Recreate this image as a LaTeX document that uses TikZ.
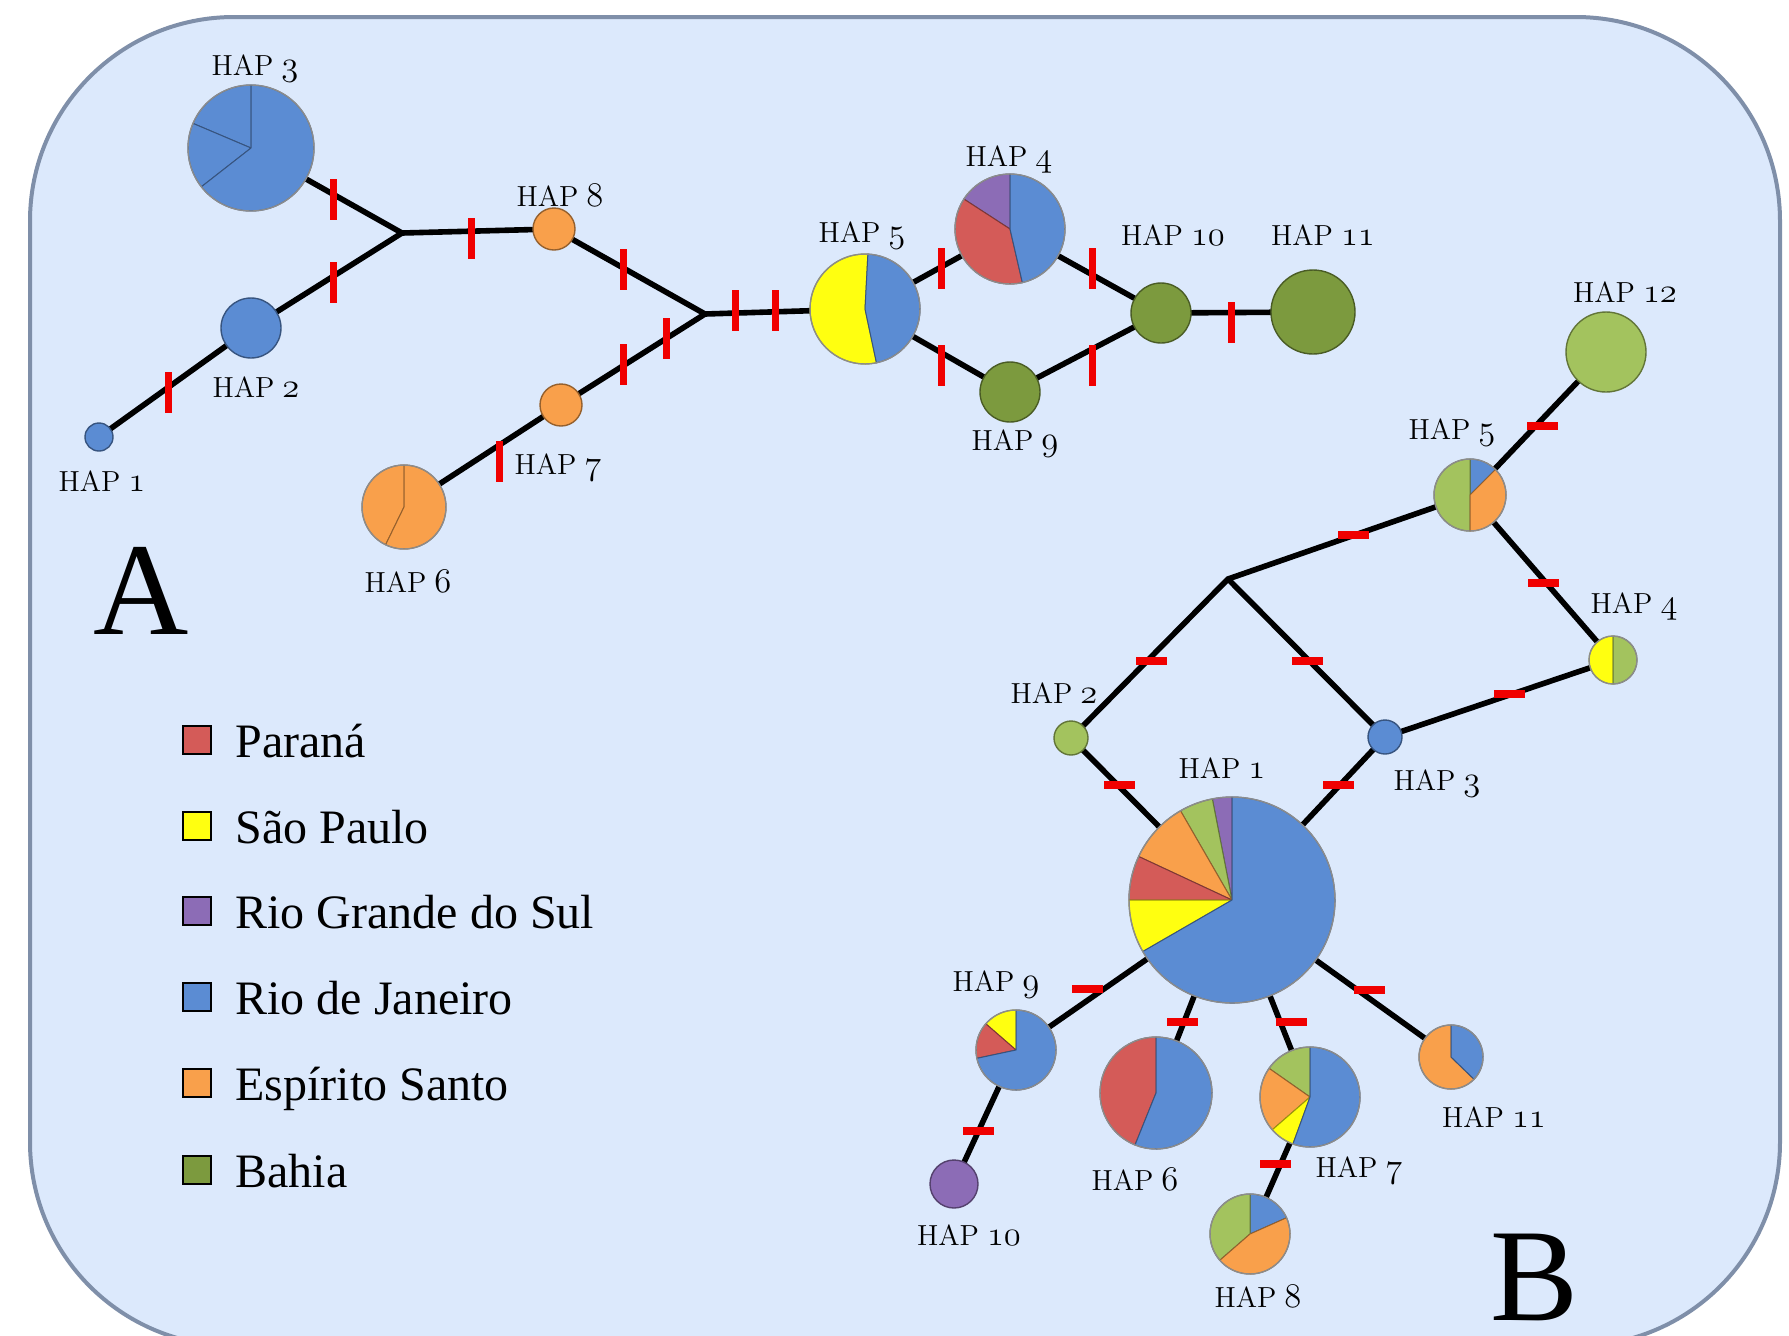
\documentclass[tikz,border=0pt]{standalone}
\usepackage{fontspec}
\newfontfamily\legfont{Liberation Serif}
\usetikzlibrary{calc}
\definecolor{bgfill}{HTML}{DCE9FC}
\definecolor{bgdraw}{HTML}{7F8FA9}
\definecolor{cBlue}{HTML}{5B8CD3}
\definecolor{cRed}{HTML}{D45B58}
\definecolor{cYel}{HTML}{FFFF10}
\definecolor{cPur}{HTML}{8C6CB6}
\definecolor{cOra}{HTML}{F9A04B}
\definecolor{cBah}{HTML}{7C9A3E}
\definecolor{cLgr}{HTML}{A3C35E}
\definecolor{cTick}{HTML}{F00000}
\newcommand\osn[1]{{\fontsize{17pt}{18pt}\usefont{OML}{cmm}{m}{it}#1}}
\newcommand\hl[1]{HAP\hspace{4pt}\osn{#1}}
\newcommand\hpie[3]{%
  \begin{scope}[shift={(#1.center)}, x=0.5pt, y=0.5pt]
    \foreach \s/\e/\c in {#3} {%
      \filldraw[fill=\c, draw=\c!60!black, line width=0.5pt, line join=round] (0,0) -- (\s:#2) arc[start angle=\s, end angle=\e, radius=#2] -- cycle;
    }
    \draw[black!45, line width=0.7pt] (0,0) circle[radius=#2];
  \end{scope}}
\newcommand\hdisc[3]{%
  \begin{scope}[shift={(#1.center)}, x=0.5pt, y=0.5pt]
    \filldraw[fill=#3, draw=#3!60!black, line width=0.7pt] (0,0) circle[radius=#2];
  \end{scope}}
\tikzset{
  hap/.style={circle, inner sep=0pt, outer sep=0pt},
  link/.style={line width=2.8pt, black},
  tka/.style={fill=cTick, inner sep=0pt, minimum width=3.5pt, minimum height=20.5pt},
  tkb/.style={fill=cTick, inner sep=0pt, minimum width=15.5pt, minimum height=4pt},
  lab/.style={font=\fontsize{14.5pt}{16pt}\selectfont, inner sep=0pt},
  legsq/.style={draw=black, line width=1.2pt, minimum size=14pt, inner sep=0pt},
  legtx/.style={font=\legfont\fontsize{24pt}{28pt}\selectfont, anchor=base west, inner sep=0pt},
  big/.style={font=\legfont\fontsize{66pt}{70pt}\selectfont, anchor=base, inner sep=0pt}
}
\begin{document}
\begin{tikzpicture}[x=0.5pt, y=-0.5pt]
\useasboundingbox (0,0) rectangle (1789,1335);
\path[fill=bgfill, draw=bgdraw, line width=2pt, rounded corners=102pt] (30,17) rectangle (1780,1346);

% ---------- network A: nodes ----------
\node[hap, minimum size=14pt] (a1) at (99,437) {};
\node[hap, minimum size=30pt] (a2) at (251,328) {};
\node[hap, minimum size=63pt] (a3) at (251,148) {};
\node[hap, minimum size=55pt] (a4) at (1010,229) {};
\node[hap, minimum size=55pt] (a5) at (865,309) {};
\node[hap, minimum size=42pt] (a6) at (404,507) {};
\node[hap, minimum size=21pt] (a7) at (561,405) {};
\node[hap, minimum size=21pt] (a8) at (554,229) {};
\node[hap, minimum size=30pt] (a9) at (1010,392) {};
\node[hap, minimum size=30pt] (a10) at (1161,313) {};
\node[hap, minimum size=42pt] (a11) at (1313,312) {};
\coordinate (j1) at (402,233);
\coordinate (j2) at (705,314);

% ---------- network B: nodes ----------
\node[hap, minimum size=103pt] (b1) at (1232,900) {};
\node[hap, minimum size=17pt] (b2) at (1071,738) {};
\node[hap, minimum size=17pt] (b3) at (1385,737) {};
\node[hap, minimum size=24pt] (b4) at (1613,660) {};
\node[hap, minimum size=36pt] (b5) at (1470,495) {};
\node[hap, minimum size=56pt] (b6) at (1156,1093) {};
\node[hap, minimum size=50pt] (b7) at (1310,1097) {};
\node[hap, minimum size=40pt] (b8) at (1250,1234) {};
\node[hap, minimum size=40pt] (b9) at (1016,1050) {};
\node[hap, minimum size=24pt] (b10) at (954,1184) {};
\node[hap, minimum size=32pt] (b11) at (1451,1057) {};
\node[hap, minimum size=40pt] (b12) at (1606,352) {};
\coordinate (j3) at (1228,579);

% ---------- connectors ----------
\draw[link] (a3.center) -- (j1) -- (a8.center) -- (j2) -- (a5.center) -- (a4.center) -- (a10.center) -- (a11.center);
\draw[link] (a1.center) -- (a2.center) -- (j1);
\draw[link] (a6.center) -- (a7.center) -- (j2);
\draw[link] (a5.center) -- (a9.center) -- (a10.center);

\draw[link] (b12.center) -- (b5.center) -- (j3) -- (b2.center) -- (b1.center);
\draw[link] (b5.center) -- (b4.center) -- (b3.center) -- (b1.center);
\draw[link] (j3) -- (b3.center);
\draw[link] (b1.center) -- (b9.center) -- (b10.center);
\draw[link] (b1.center) -- (b6.center);
\draw[link] (b1.center) -- (b7.center) -- (b8.center);
\draw[link] (b1.center) -- (b11.center);

% ---------- pies A ----------
\hdisc{a1}{14}{cBlue}
\hdisc{a2}{30}{cBlue}
\hpie{a3}{63}{90/157/cBlue, 157/218/cBlue, 218/450/cBlue}
\hpie{a4}{55}{90/147/cPur, 147/283/cRed, 283/450/cBlue}
\hpie{a5}{55}{87/282/cYel, 282/447/cBlue}
\hpie{a6}{42}{90/244/cOra, 244/450/cOra}
\hdisc{a7}{21}{cOra}
\hdisc{a8}{21}{cOra}
\hdisc{a9}{30}{cBah}
\hdisc{a10}{30}{cBah}
\hdisc{a11}{42}{cBah}

% ---------- pies B ----------
\hpie{b1}{103}{90/101/cPur, 101/120/cLgr, 120/155/cOra, 155/180/cRed, 180/210/cYel, 210/450/cBlue}
\hdisc{b2}{17}{cLgr}
\hdisc{b3}{17}{cBlue}
\hpie{b4}{24}{90/270/cYel, 270/450/cLgr}
\hpie{b5}{36}{45/90/cBlue, 90/270/cLgr, 270/405/cOra}
\hpie{b6}{56}{90/248/cRed, 248/450/cBlue}
\hpie{b7}{50}{90/145/cLgr, 145/221/cOra, 221/250/cYel, 250/450/cBlue}
\hpie{b8}{40}{24/90/cBlue, 90/221/cLgr, 221/384/cOra}
\hpie{b9}{40}{90/139/cYel, 139/192/cRed, 192/450/cBlue}
\hdisc{b10}{24}{cPur}
\hpie{b11}{32}{90/316/cOra, 316/450/cBlue}
\hdisc{b12}{40}{cLgr}

% ---------- mutation ticks A ----------
\node[tka] (ta1) at (333,199) {};
\node[tka] (ta2) at (333,282) {};
\node[tka] (ta3) at (168,392) {};
\node[tka] (ta4) at (471,238) {};
\node[tka] (ta5) at (623,269) {};
\node[tka] (ta6) at (735,310) {};
\node[tka] (ta7) at (775,310) {};
\node[tka] (ta8) at (623,364) {};
\node[tka] (ta9) at (666,338) {};
\node[tka] (ta10) at (499,461) {};
\node[tka] (ta11) at (941,268) {};
\node[tka] (ta12) at (1092,268) {};
\node[tka] (ta13) at (941,365) {};
\node[tka] (ta14) at (1092,365) {};
\node[tka] (ta15) at (1231,322) {};

% ---------- mutation ticks B ----------
\node[tkb] (tb1) at (1542,426) {};
\node[tkb] (tb2) at (1353,535) {};
\node[tkb] (tb3) at (1543,583) {};
\node[tkb] (tb4) at (1509,694) {};
\node[tkb] (tb5) at (1307,661) {};
\node[tkb] (tb6) at (1151,661) {};
\node[tkb] (tb7) at (1119,785) {};
\node[tkb] (tb8) at (1338,785) {};
\node[tkb] (tb9) at (1087,989) {};
\node[tkb] (tb10) at (1182,1022) {};
\node[tkb] (tb11) at (1291,1022) {};
\node[tkb] (tb12) at (1369,990) {};
\node[tkb] (tb13) at (978,1131) {};
\node[tkb] (tb14) at (1275,1164) {};

% ---------- labels A ----------
\node[lab] (la3) at (255,68) {\hl{3}};
\node[lab] (la2) at (256,387) {\hl{2}};
\node[lab] (la1) at (102,481) {\hl{1}};
\node[lab] (la8) at (560,195) {\hl{8}};
\node[lab] (la7) at (558,467) {\hl{7}};
\node[lab] (la6) at (408,581) {\hl{6}};
\node[lab] (la5) at (862,235) {\hl{5}};
\node[lab] (la4) at (1009,159) {\hl{4}};
\node[lab] (la10) at (1173,235) {\hl{10}};
\node[lab] (la11) at (1323,235) {\hl{11}};
\node[lab] (la9) at (1015,443) {\hl{9}};

% ---------- labels B ----------
\node[lab] (lb12) at (1625,292) {\hl{12}};
\node[lab] (lb5) at (1452,432) {\hl{5}};
\node[lab] (lb4) at (1634,606) {\hl{4}};
\node[lab] (lb2) at (1054,693) {\hl{2}};
\node[lab] (lb3) at (1437,783) {\hl{3}};
\node[lab] (lb1) at (1222,768) {\hl{1}};
\node[lab] (lb9) at (996,984) {\hl{9}};
\node[lab] (lb10) at (969,1235) {\hl{10}};
\node[lab] (lb6) at (1135,1179) {\hl{6}};
\node[lab] (lb7) at (1359,1170) {\hl{7}};
\node[lab] (lb8) at (1258,1296) {\hl{8}};
\node[lab] (lb11) at (1494,1117) {\hl{11}};

% ---------- panel letters ----------
\node[big] (letA) at (141,634) {A};
\node[big] (letB) at (1535,1320) {B};

% ---------- legend ----------
\node[legsq, fill=cRed] (l1) at (197,740) {};
\node[legsq, fill=cYel] (l2) at (197,826) {};
\node[legsq, fill=cPur] (l3) at (197,911) {};
\node[legsq, fill=cBlue] (l4) at (197,997) {};
\node[legsq, fill=cOra] (l5) at (197,1083) {};
\node[legsq, fill=cBah] (l6) at (197,1170) {};
\node[legtx] (lt1) at (235,757) {Paraná};
\node[legtx] (lt2) at (235,843) {São Paulo};
\node[legtx] (lt3) at (235,928) {Rio Grande do Sul};
\node[legtx] (lt4) at (235,1014) {Rio de Janeiro};
\node[legtx] (lt5) at (235,1100) {Espírito Santo};
\node[legtx] (lt6) at (235,1187) {Bahia};
\end{tikzpicture}
\end{document}
